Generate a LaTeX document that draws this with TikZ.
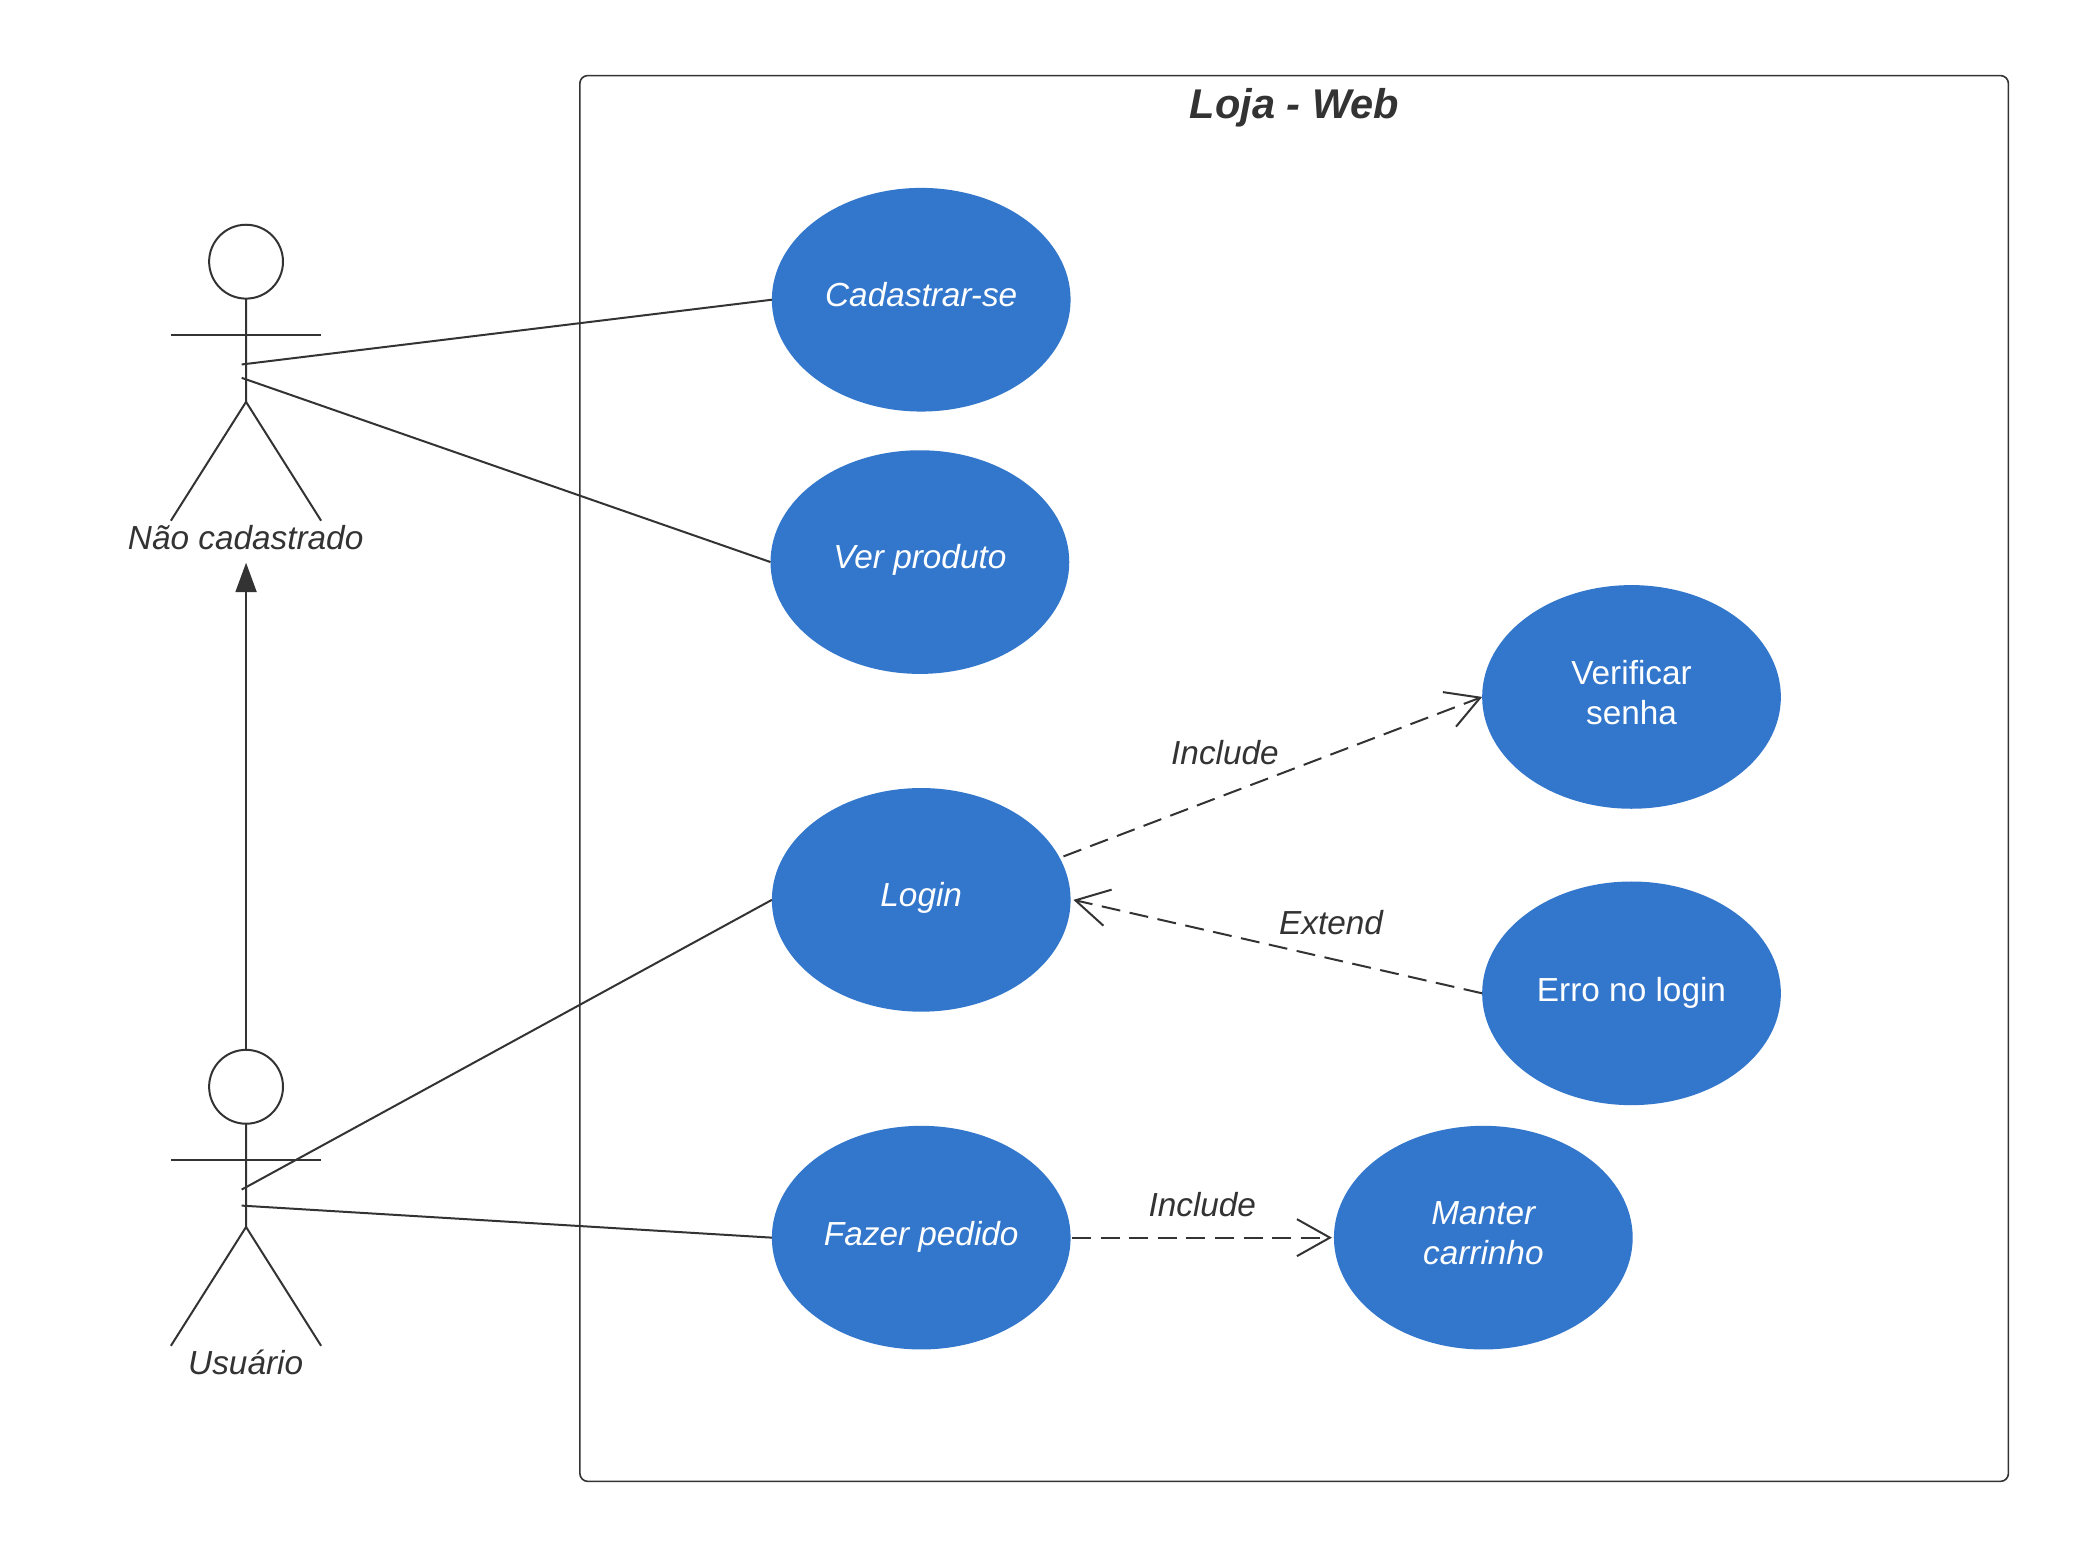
\documentclass[tikz,border=0pt]{standalone}
\usepackage{fontspec}
\setmainfont{Liberation Sans}
\usetikzlibrary{shapes.geometric,arrows.meta}
\definecolor{ucblue}{HTML}{3377CC}
\definecolor{ink}{HTML}{333333}
\newcommand\liftup[2]{\raisebox{#1}[\height][\depth]{#2}}
\tikzset{
  x=0.6686pt,y=-0.6686pt,
  line/.style={draw=ink,line width=1pt},
  usecase/.style={ellipse,fill=ucblue,draw=none,minimum width=149.6pt,minimum height=112pt,inner sep=0pt,outer sep=0pt,text=white,font=\fontsize{16.7}{20}\selectfont,align=center},
  label/.style={text=ink,font=\fontsize{16.7}{20}\selectfont\itshape,inner sep=0pt},
  titletext/.style={text=ink,font=\fontsize{20.8}{25}\selectfont\bfseries\itshape,inner sep=0pt},
  headcircle/.style={circle,line,minimum size=37pt,inner sep=0pt,outer sep=0pt},
  depend/.style={line,dash pattern=on 9.5pt off 4.8pt,-{Straight Barb[length=16.5pt,width=18.5pt,line width=1pt]}},
  general/.style={line,-{Triangle[length=14.7pt,width=10.5pt,fill=ink]}},
}
\begin{document}
\begin{tikzpicture}
\useasboundingbox (0,0) rectangle (1568.4,1172.9);
\fill[white] (0,0) rectangle (1568.4,1172.9);
% system boundary
\node[draw=ink,line width=0.8pt,rounded corners=4pt,minimum width=715.4pt,minimum height=704pt,inner sep=0pt,anchor=north west] (sys) at (433.7,56) {};
\node[titletext] (title) at (969.5,80.5) {Loja - Web};
% use cases
\node[usecase] (cad) at (690,224.5) {\liftup{2.6pt}{\itshape Cadastrar-se}};
\node[usecase] (ver) at (689,421) {\liftup{1pt}{\itshape Ver produto}};
\node[usecase] (login) at (690,674) {\liftup{1pt}{\itshape Login}};
\node[usecase] (pedido) at (690,927) {\liftup{0.4pt}{\itshape Fazer pedido}};
\node[usecase] (senha) at (1222,522) {\liftup{0.4pt}{\begin{tabular}{@{}c@{}}Verificar\\senha\end{tabular}}};
\node[usecase] (erro) at (1222,744) {\liftup{0.4pt}{Erro no login}};
\node[usecase] (carrinho) at (1111,927) {\liftup{0.4pt}{\itshape\begin{tabular}{@{}c@{}}Manter\\carrinho\end{tabular}}};
% actors
\node[headcircle] (h1) at (184.3,196) {};
\coordinate (c1) at (184.3,301);
\draw[line,line join=round] (h1.south) -- (c1) -- (128,390);
\draw[line] (c1) -- (240.5,390);
\draw[line] (128,251) -- (240.5,251);
\node[label] (a1) at (184,402.5) {Não cadastrado};
\node[headcircle] (h2) at (184.3,814) {};
\coordinate (c2) at (184.3,919);
\draw[line,line join=round] (h2.south) -- (c2) -- (128,1008);
\draw[line] (c2) -- (240.5,1008);
\draw[line] (128,869) -- (240.5,869);
\node[label] (a2) at (184,1020.5) {Usuário};
% free ends on actors
\coordinate (p1) at (181,273);
\coordinate (p2) at (181,283);
\coordinate (p3) at (181,891);
\coordinate (p4) at (181,903);
\coordinate (gt) at (184.3,421.5);
% associations
\draw[line] (p1) -- (cad.west);
\draw[line] (p2) -- (ver.west);
\draw[line] (p3) -- (login.west);
\draw[line] (p4) -- (pedido.west);
\draw[general] (h2.north) -- (gt);
% dependencies
\coordinate (d0) at ([xshift=2pt,yshift=0.6pt]login.17);
\coordinate (d1) at (senha.west);
\draw[depend] (d0) -- (d1);
\coordinate (d2) at ([xshift=1.4pt]login.east);
\draw[depend] (erro.west) -- (d2);
\coordinate (d3) at ([xshift=0.8pt]pedido.east);
\coordinate (d4) at ([xshift=-1.0pt]carrinho.west);
\draw[depend] (d3) -- (d4);
\node[label] (l1) at (917.5,563.5) {Include};
\node[label] (l2) at (997,691) {Extend};
\node[label] (l3) at (900.5,902) {Include};
\end{tikzpicture}
\end{document}
